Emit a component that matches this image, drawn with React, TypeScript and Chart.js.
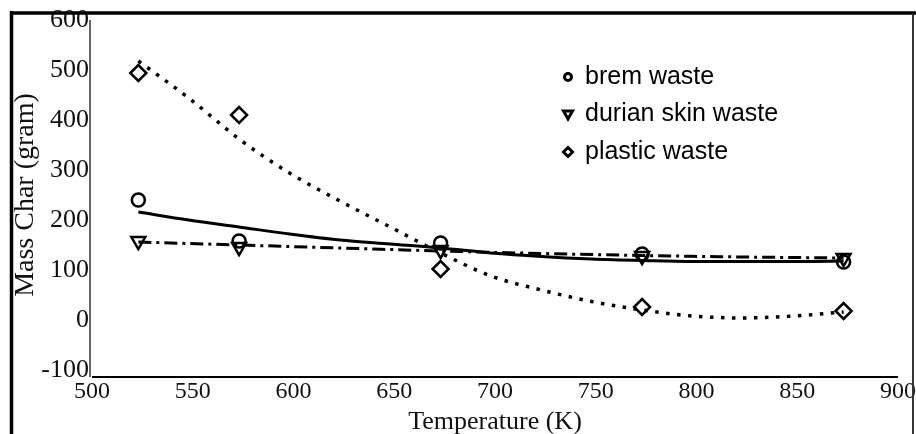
import { useEffect, useRef } from "react";
import { Chart, registerables } from "chart.js";
Chart.register(...registerables);

const temperatures = [523, 573, 673, 773, 873];
const bremWaste = [240, 158, 154, 132, 116];
const durianSkinWaste = [158, 146, 140, 128, 124];
const plasticWaste = [494, 410, 102, 26, 18];

const bremTrendX = [523, 548, 573, 598, 623, 648, 673, 698, 723, 748, 773, 798, 823, 848, 873];
const bremTrendY = [216, 200, 186, 172, 160, 152, 144, 134, 127, 122, 119, 117, 117, 117, 118];
const durianTrendX = [523, 573, 623, 673, 723, 773, 823, 873];
const durianTrendY = [156, 150, 144, 138, 133, 129, 126, 124];
const plasticTrendX = [523, 548, 573, 598, 623, 648, 673, 698, 723, 748, 773, 798, 823, 848, 873];
const plasticTrendY = [518, 444, 362, 294, 238, 186, 134, 88, 60, 37, 20, 8, 4, 8, 16];

const seriesLabels = ["brem waste", "durian skin waste", "plastic waste"];
const xTitle = "Temperature (K)";
const yTitle = "Mass Char (gram)";

const pts = (xs: number[], ys: number[]) => xs.map((x, i) => ({ x, y: ys[i] }));

function drawMarker(ctx: CanvasRenderingContext2D, kind: string, x: number, y: number, r: number) {
  ctx.beginPath();
  if (kind === "circle") {
    ctx.arc(x, y, r, 0, Math.PI * 2);
  } else if (kind === "triangle") {
    ctx.moveTo(x - r, y - r * 0.8);
    ctx.lineTo(x + r, y - r * 0.8);
    ctx.lineTo(x, y + r);
    ctx.closePath();
  } else {
    ctx.moveTo(x, y - r);
    ctx.lineTo(x + r, y);
    ctx.lineTo(x, y + r);
    ctx.lineTo(x - r, y);
    ctx.closePath();
  }
  ctx.stroke();
}

const framePlugin = {
  id: "frameAndLegend",
  beforeDatasetsDraw(chart: any) {
    const { ctx, chartArea } = chart;
    ctx.save();
    ctx.lineCap = "butt";
    ctx.strokeStyle = "#666";
    ctx.lineWidth = 2;
    ctx.beginPath();
    ctx.moveTo(chartArea.left - 2, chartArea.top);
    ctx.lineTo(chartArea.left - 2, chartArea.bottom + 7);
    ctx.stroke();
    ctx.strokeStyle = "#000";
    ctx.beginPath();
    ctx.moveTo(chartArea.left, chartArea.bottom + 7);
    ctx.lineTo(chartArea.right, chartArea.bottom + 7);
    ctx.stroke();
    ctx.restore();
  },
  afterDraw(chart: any) {
    const { ctx, chartArea, width, height } = chart;
    ctx.save();
    // frame
    ctx.strokeStyle = "#000";
    ctx.lineWidth = 3.5;
    ctx.beginPath();
    ctx.moveTo(10, 13);
    ctx.lineTo(width, 13);
    ctx.moveTo(11.5, 11);
    ctx.lineTo(11.5, height);
    ctx.stroke();
    ctx.strokeStyle = "#333";
    ctx.lineWidth = 2;
    ctx.beginPath();
    ctx.moveTo(913, 14);
    ctx.lineTo(913, height);
    ctx.stroke();
    // legend
    const kinds = ["circle", "triangle", "diamond"];
    const lx = chartArea.left + 476;
    const ly = chartArea.top + 57;
    ctx.font = "25px 'Liberation Sans'";
    ctx.textBaseline = "middle";
    ctx.fillStyle = "#000";
    ctx.strokeStyle = "#000";
    ctx.lineWidth = 3;
    seriesLabels.forEach((lab, i) => {
      const y = ly + i * 37.5;
      drawMarker(ctx, kinds[i], lx, y, kinds[i] === "circle" ? 3.5 : 4.5);
      ctx.fillText(lab, lx + 17, y);
    });
    ctx.restore();
  },
};

export default function App() {
  const ref = useRef<HTMLCanvasElement | null>(null);
  useEffect(() => {
    document.body.style.margin = "0";
    const canvas = ref.current!;
    const markerBase = {
      showLine: false,
      borderColor: "#000",
      backgroundColor: "rgba(0,0,0,0)",
      borderWidth: 2.5,
      pointBorderWidth: 2.5,
      pointBackgroundColor: "rgba(0,0,0,0)",
      pointBorderColor: "#000",
    };
    const trendBase = {
      showLine: true,
      pointRadius: 0,
      borderColor: "#000",
      borderWidth: 3,
      fill: false,
      tension: 0.4,
      cubicInterpolationMode: "monotone",
    };
    const chart = new Chart(canvas, {
      type: "scatter",
      data: {
        datasets: [
          { ...trendBase, label: seriesLabels[0] + " trend", data: pts(bremTrendX, bremTrendY) },
          { ...trendBase, label: seriesLabels[1] + " trend", data: pts(durianTrendX, durianTrendY), borderDash: [13, 5, 3, 5] },
          { ...trendBase, label: seriesLabels[2] + " trend", data: pts(plasticTrendX, plasticTrendY), borderDash: [3.5, 7.5], borderWidth: 3.5 },
          { ...markerBase, label: seriesLabels[0], data: pts(temperatures, bremWaste), pointStyle: "circle", pointRadius: 6.5 },
          { ...markerBase, label: seriesLabels[1], data: pts(temperatures, durianSkinWaste), pointStyle: "triangle", pointRotation: 180, pointRadius: 8 },
          { ...markerBase, label: seriesLabels[2], data: pts(temperatures, plasticWaste), pointStyle: "rectRot", pointRadius: 8 },
        ],
      } as any,
      options: {
        animation: false,
        responsive: false,
        devicePixelRatio: 1,
        layout: { padding: { top: 20, right: 18, left: 0, bottom: 0 } },
        plugins: { legend: { display: false }, tooltip: { enabled: false } },
        scales: {
          x: {
            type: "linear",
            min: 500,
            max: 900,
            grid: { display: false, drawTicks: false },
            border: { display: false },
            ticks: { stepSize: 50, padding: 7, color: "#111", font: { family: "'Liberation Serif'", size: 24 }, maxRotation: 0 },
            title: { display: true, text: xTitle, color: "#111", font: { family: "'Liberation Serif'", size: 26 }, padding: { top: 0, bottom: -4 } },
            afterFit: (s: any) => { s.height = 64; s.paddingLeft = 0; s.paddingRight = 0; },
          },
          y: {
            type: "linear",
            min: -100,
            max: 600,
            grid: { display: false, drawTicks: false },
            border: { display: false },
            ticks: { stepSize: 100, padding: 3, color: "#111", font: { family: "'Liberation Serif'", size: 26 } },
            title: { display: true, text: yTitle, color: "#111", font: { family: "'Liberation Serif'", size: 28 }, padding: { top: 9, bottom: 0 } },
            afterFit: (s: any) => { s.width = 92; },
          },
        },
      } as any,
      plugins: [framePlugin],
    });
    return () => chart.destroy();
  }, []);
  return (
    <div style={{ width: 916, height: 434, background: "#fff" }}>
      <canvas ref={ref} width={916} height={434} style={{ display: "block" }} />
    </div>
  );
}
